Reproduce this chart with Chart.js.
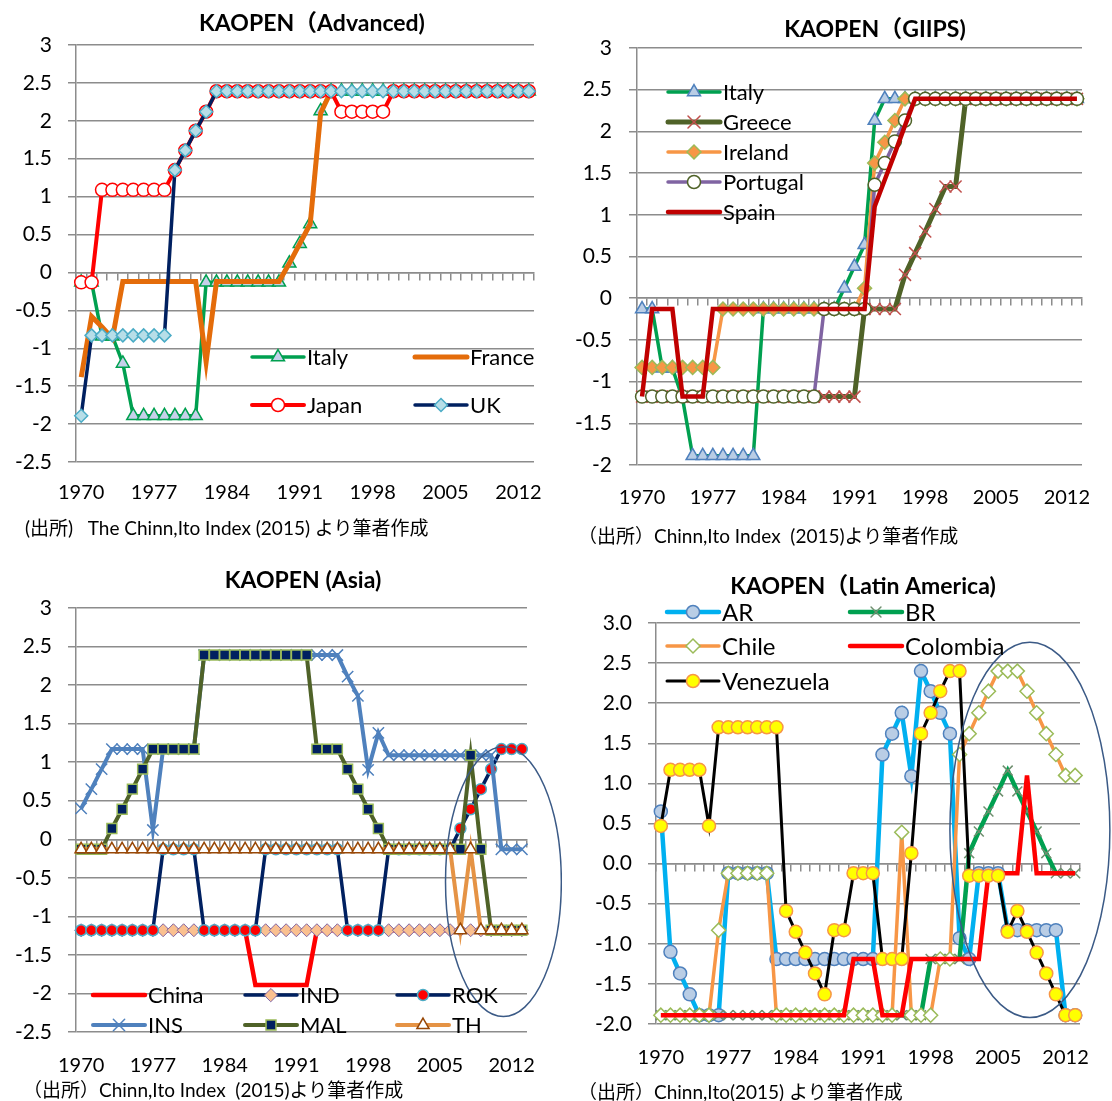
<!DOCTYPE html>
<html>
<head>
<meta charset="utf-8">
<script src="https://cdn.jsdelivr.net/npm/chart.js@4.4.1/dist/chart.umd.min.js"></script>
<style>
html, body { margin: 0; padding: 0; background: #fff; }
#page { position: relative; width: 1112px; height: 1101px; overflow: hidden; font-family: Lato, "Noto Sans CJK JP", sans-serif; }
.panel { position: absolute; }
.note { position: absolute; font-size: 19px; line-height: 22px; white-space: pre; color: #000; }
</style>
</head>
<body>
<div id="page">
  <div class="panel" style="left:0;top:0;width:562px;height:550px"><canvas id="cAdv"></canvas></div>
  <div class="panel" style="left:556px;top:0;width:556px;height:550px"><canvas id="cGiips"></canvas></div>
  <div class="panel" style="left:0;top:550px;width:562px;height:551px"><canvas id="cAsia"></canvas></div>
  <div class="panel" style="left:556px;top:550px;width:556px;height:551px"><canvas id="cLatam"></canvas></div>
  <div class="note" style="left:25px;top:517px">(出所)   The Chinn,Ito Index (2015) より筆者作成</div>
  <div class="note" style="left:578px;top:525px">（出所）Chinn,Ito Index  (2015)より筆者作成</div>
  <div class="note" style="left:23px;top:1079px">（出所）Chinn,Ito Index  (2015)より筆者作成</div>
  <div class="note" style="left:578px;top:1081px">（出所）Chinn,Ito(2015) より筆者作成</div>
</div>
<script>
const years = [1970, 1971, 1972, 1973, 1974, 1975, 1976, 1977, 1978, 1979,
               1980, 1981, 1982, 1983, 1984, 1985, 1986, 1987, 1988, 1989,
               1990, 1991, 1992, 1993, 1994, 1995, 1996, 1997, 1998, 1999,
               2000, 2001, 2002, 2003, 2004, 2005, 2006, 2007, 2008, 2009,
               2010, 2011, 2012, 2013];
const tickYears = [1970, 1977, 1984, 1991, 1998, 2005, 2012];

// Advanced
const italy = [-0.13, -0.13, -0.84, -0.84, -1.2, -1.89, -1.89, -1.89, -1.89, -1.89,
               -1.89, -1.89, -0.13, -0.13, -0.13, -0.13, -0.13, -0.13, -0.13, -0.13,
               0.12, 0.38, 0.64, 2.13, 2.39, 2.39, 2.39, 2.39, 2.39, 2.39,
               2.39, 2.39, 2.39, 2.39, 2.39, 2.39, 2.39, 2.39, 2.39, 2.39,
               2.39, 2.39, 2.39, 2.39];
const france = [-1.38, -0.58, -0.72, -0.87, -0.12, -0.12, -0.12, -0.12, -0.12, -0.12,
                -0.12, -0.12, -1.18, -0.12, -0.12, -0.12, -0.12, -0.12, -0.12, -0.12,
                0.12, 0.38, 0.64, 2.1, 2.39, 2.39, 2.39, 2.39, 2.39, 2.39,
                2.39, 2.39, 2.39, 2.39, 2.39, 2.39, 2.39, 2.39, 2.39, 2.39,
                2.39, 2.39, 2.39, 2.39];
const japan = [-0.13, -0.13, 1.09, 1.09, 1.09, 1.09, 1.09, 1.09, 1.09, 1.35,
               1.61, 1.87, 2.12, 2.39, 2.39, 2.39, 2.39, 2.39, 2.39, 2.39,
               2.39, 2.39, 2.39, 2.39, 2.39, 2.12, 2.12, 2.12, 2.12, 2.12,
               2.39, 2.39, 2.39, 2.39, 2.39, 2.39, 2.39, 2.39, 2.39, 2.39,
               2.39, 2.39, 2.39, 2.39];
const uk = [-1.89, -0.83, -0.83, -0.83, -0.83, -0.83, -0.83, -0.83, -0.83, 1.35,
            1.61, 1.87, 2.12, 2.39, 2.39, 2.39, 2.39, 2.39, 2.39, 2.39,
            2.39, 2.39, 2.39, 2.39, 2.39, 2.39, 2.39, 2.39, 2.39, 2.39,
            2.39, 2.39, 2.39, 2.39, 2.39, 2.39, 2.39, 2.39, 2.39, 2.39,
            2.39, 2.39, 2.39, 2.39];

// GIIPS
const greece = [-1.18, -1.18, -1.18, -1.18, -1.18, -1.18, -1.18, -1.18, -1.18, -1.18,
                -1.18, -1.18, -1.18, -1.18, -1.18, -1.18, -1.18, -1.18, -1.18, -1.18,
                -1.18, -1.18, -0.13, -0.13, -0.13, -0.13, 0.28, 0.54, 0.8, 1.07,
                1.34, 1.34, 2.39, 2.39, 2.39, 2.39, 2.39, 2.39, 2.39, 2.39,
                2.39, 2.39, 2.39, 2.39];
const ireland = [-0.83, -0.83, -0.83, -0.83, -0.83, -0.83, -0.83, -0.83, -0.13, -0.13,
                 -0.13, -0.13, -0.13, -0.13, -0.13, -0.13, -0.13, -0.13, -0.13, -0.13,
                 -0.13, -0.13, 0.12, 1.62, 1.87, 2.13, 2.39, 2.39, 2.39, 2.39,
                 2.39, 2.39, 2.39, 2.39, 2.39, 2.39, 2.39, 2.39, 2.39, 2.39,
                 2.39, 2.39, 2.39, 2.39];
const portugal = [-1.18, -1.18, -1.18, -1.18, -1.18, -1.18, -1.18, -1.18, -1.18, -1.18,
                  -1.18, -1.18, -1.18, -1.18, -1.18, -1.18, -1.18, -1.18, -0.13, -0.13,
                  -0.13, -0.13, -0.13, 1.36, 1.62, 1.88, 2.13, 2.39, 2.39, 2.39,
                  2.39, 2.39, 2.39, 2.39, 2.39, 2.39, 2.39, 2.39, 2.39, 2.39,
                  2.39, 2.39, 2.39, 2.39];
const spain = [-1.18, -0.13, -0.13, -0.13, -1.18, -1.18, -1.18, -0.13, -0.13, -0.13,
               -0.13, -0.13, -0.13, -0.13, -0.13, -0.13, -0.13, -0.13, -0.13, -0.13,
               -0.13, -0.13, -0.13, 1.1, 1.42, 1.74, 2.07, 2.39, 2.39, 2.39,
               2.39, 2.39, 2.39, 2.39, 2.39, 2.39, 2.39, 2.39, 2.39, 2.39,
               2.39, 2.39, 2.39, 2.39];

// Asia
const china = [-1.18, -1.18, -1.18, -1.18, -1.18, -1.18, -1.18, -1.18, -1.18, -1.18,
               -1.18, -1.18, -1.18, -1.18, -1.18, -1.18, -1.18, -1.89, -1.89, -1.89,
               -1.89, -1.89, -1.89, -1.18, -1.18, -1.18, -1.18, -1.18, -1.18, -1.18,
               -1.18, -1.18, -1.18, -1.18, -1.18, -1.18, -1.18, -1.18, -1.18, -1.18,
               -1.18, -1.18, -1.18, -1.18];
const ind = [-1.18, -1.18, -1.18, -1.18, -1.18, -1.18, -1.18, -1.18, -1.18, -1.18,
             -1.18, -1.18, -1.18, -1.18, -1.18, -1.18, -1.18, -1.18, -1.18, -1.18,
             -1.18, -1.18, -1.18, -1.18, -1.18, -1.18, -1.18, -1.18, -1.18, -1.18,
             -1.18, -1.18, -1.18, -1.18, -1.18, -1.18, -1.18, -1.18, -1.18, -1.18,
             -1.18, -1.18, -1.18, -1.18];
const rok = [-1.18, -1.18, -1.18, -1.18, -1.18, -1.18, -1.18, -1.18, -0.13, -0.13,
             -0.13, -0.13, -1.18, -1.18, -1.18, -1.18, -1.18, -1.18, -0.13, -0.13,
             -0.13, -0.13, -0.13, -0.13, -0.13, -0.13, -1.18, -1.18, -1.18, -1.18,
             -0.13, -0.13, -0.13, -0.13, -0.13, -0.13, -0.13, 0.14, 0.39, 0.65,
             0.91, 1.17, 1.17, 1.17];
const ins = [0.40, 0.65, 0.91, 1.17, 1.17, 1.17, 1.17, 0.12, 1.17, 1.17,
             1.17, 1.17, 2.39, 2.39, 2.39, 2.39, 2.39, 2.39, 2.39, 2.39,
             2.39, 2.39, 2.39, 2.39, 2.39, 2.39, 2.11, 1.86, 0.90, 1.38,
             1.09, 1.09, 1.09, 1.09, 1.09, 1.09, 1.09, 1.09, 1.09, 1.09,
             1.09, -0.13, -0.13, -0.13];
const mal = [-0.13, -0.13, -0.13, 0.14, 0.39, 0.65, 0.91, 1.17, 1.17, 1.17,
             1.17, 1.17, 2.39, 2.39, 2.39, 2.39, 2.39, 2.39, 2.39, 2.39,
             2.39, 2.39, 2.39, 1.17, 1.17, 1.17, 0.91, 0.65, 0.39, 0.14,
             -0.13, -0.13, -0.13, -0.13, -0.13, -0.13, -0.13, -0.13, 1.09, -0.13,
             -1.18, -1.18, -1.18, -1.18];
const th = [-0.13, -0.13, -0.13, -0.13, -0.13, -0.13, -0.13, -0.13, -0.13, -0.13,
            -0.13, -0.13, -0.13, -0.13, -0.13, -0.13, -0.13, -0.13, -0.13, -0.13,
            -0.13, -0.13, -0.13, -0.13, -0.13, -0.13, -0.13, -0.13, -0.13, -0.13,
            -0.13, -0.13, -0.13, -0.13, -0.13, -0.13, -0.13, -1.18, -0.13, -1.18,
            -1.18, -1.18, -1.18, -1.18];

// Latin America
const ar = [0.65, -1.10, -1.37, -1.63, -1.89, -1.89, -1.89, -0.12, -0.12, -0.12,
            -0.12, -0.12, -1.19, -1.19, -1.19, -1.19, -1.19, -1.19, -1.19, -1.19,
            -1.19, -1.19, -1.19, 1.36, 1.62, 1.88, 1.09, 2.40, 2.15, 1.88,
            1.62, -0.93, -1.19, -0.12, -0.12, -0.12, -0.83, -0.83, -0.83, -0.83,
            -0.83, -0.83, -1.89, -1.89];
const br = [-1.89, -1.89, -1.89, -1.89, -1.89, -1.89, -1.89, -1.89, -1.89, -1.89,
            -1.89, -1.89, -1.89, -1.89, -1.89, -1.89, -1.89, -1.89, -1.89, -1.89,
            -1.89, -1.89, -1.89, -1.89, -1.89, -1.89, -1.89, -1.89, -1.19, -1.19,
            -1.19, -1.19, 0.13, 0.40, 0.65, 0.90, 1.16, 0.90, 0.65, 0.40,
            0.13, -0.12, -0.12, -0.12];
const chile = [-1.89, -1.89, -1.89, -1.89, -1.89, -1.89, -0.83, -0.12, -0.12, -0.12,
               -0.12, -0.12, -1.89, -1.89, -1.89, -1.89, -1.89, -1.89, -1.89, -1.89,
               -1.89, -1.89, -1.89, -1.89, -1.89, 0.39, -1.89, -1.89, -1.89, -1.19,
               -1.19, 1.36, 1.62, 1.88, 2.15, 2.40, 2.40, 2.40, 2.15, 1.88,
               1.62, 1.36, 1.10, 1.10];
const colombia = [-1.89, -1.89, -1.89, -1.89, -1.89, -1.89, -1.89, -1.89, -1.89, -1.89,
                  -1.89, -1.89, -1.89, -1.89, -1.89, -1.89, -1.89, -1.89, -1.89, -1.89,
                  -1.19, -1.19, -1.19, -1.89, -1.89, -1.89, -1.19, -1.19, -1.19, -1.19,
                  -1.19, -1.19, -1.19, -1.19, -0.12, -0.12, -0.12, -0.12, 1.10, -0.12,
                  -0.12, -0.12, -0.12, -0.12];
const venezuela = [0.47, 1.17, 1.17, 1.17, 1.17, 0.47, 1.70, 1.70, 1.70, 1.70,
                   1.70, 1.70, 1.70, -0.59, -0.85, -1.11, -1.37, -1.63, -0.83, -0.83,
                   -0.12, -0.12, -0.12, -1.19, -1.19, -1.19, 0.13, 1.62, 1.88, 2.15,
                   2.40, 2.40, -0.15, -0.15, -0.15, -0.15, -0.85, -0.59, -0.85, -1.11,
                   -1.37, -1.63, -1.89, -1.89];

const GRID = '#8c8c8c';
const FONT = 'Lato, "Noto Sans CJK JP", sans-serif';

function series(label, data, color, width, marker) {
    const ds = {
        label: label, data: data, borderColor: color, backgroundColor: color,
        borderWidth: width, tension: 0, fill: false, pointRadius: 0, pointHoverRadius: 0
    };
    if (marker) {
        ds.pointStyle = marker.style;
        ds.pointRadius = marker.r;
        ds.pointHoverRadius = marker.r;
        ds.pointBackgroundColor = marker.fill;
        ds.pointBorderColor = marker.edge;
        ds.pointBorderWidth = marker.w || 1.5;
    }
    return ds;
}

// titles, legends and the ellipses
const decor = {
    id: 'decor',
    afterDatasetsDraw(chart, args, o) {
        const ctx = chart.ctx;
        const xs = chart.scales.x, ys = chart.scales.y;
        ctx.save();
        if (o.ellipse) {
            const e = o.ellipse;
            const step = xs.getPixelForValue(1) - xs.getPixelForValue(0);
            const cx = xs.getPixelForValue(0) + e.cx * step;
            const cy = ys.getPixelForValue(e.cy);
            const ry = Math.abs(ys.getPixelForValue(0) - ys.getPixelForValue(e.ry));
            ctx.beginPath();
            ctx.ellipse(cx, cy, e.rx * step, ry, 0, 0, Math.PI * 2);
            ctx.strokeStyle = '#3b5a86';
            ctx.lineWidth = 1.5;
            ctx.stroke();
        }
        (o.spots || []).forEach((p, i) => {
            const ds = chart.data.datasets[i];
            const len = 52;
            ctx.beginPath();
            ctx.moveTo(p[0], p[1]);
            ctx.lineTo(p[0] + len, p[1]);
            ctx.strokeStyle = ds.borderColor;
            ctx.lineWidth = ds.borderWidth;
            ctx.lineCap = 'round';
            ctx.stroke();
            if (ds.pointRadius > 0 && Chart.helpers && Chart.helpers.drawPoint) {
                ctx.fillStyle = ds.pointBackgroundColor || '#fff';
                ctx.strokeStyle = ds.pointBorderColor;
                ctx.lineWidth = ds.pointBorderWidth;
                Chart.helpers.drawPoint(ctx, {
                    pointStyle: ds.pointStyle, radius: ds.pointRadius,
                    rotation: 0, borderWidth: ds.pointBorderWidth
                }, p[0] + len / 2, p[1]);
            }
            ctx.fillStyle = '#000';
            ctx.font = o.legendSize + 'px ' + FONT;
            ctx.textAlign = 'left';
            ctx.textBaseline = 'middle';
            ctx.fillText(ds.label, p[0] + len + 3, p[1] + 1);
        });
        ctx.fillStyle = '#000';
        ctx.font = 'bold 23px ' + FONT;
        ctx.textAlign = 'center';
        ctx.textBaseline = 'middle';
        ctx.fillText(o.title, o.titleAt[0], o.titleAt[1]);
        ctx.restore();
    }
};

function panel(id, p) {
    const datasets = p.datasets.map((d, i, a) => Object.assign(d, { order: a.length - i }));
    return new Chart(document.getElementById(id), {
        type: 'line',
        data: { labels: years, datasets: datasets },
        options: {
            responsive: true,
            maintainAspectRatio: false,
            animation: false,
            layout: { padding: { left: 0, top: p.area.top, right: p.w - p.area.right, bottom: 0 } },
            plugins: {
                legend: { display: false },
                tooltip: { enabled: false },
                title: { display: false },
                decor: { title: p.title, titleAt: p.titleAt, spots: p.spots, ellipse: p.ellipse, legendSize: p.legendSize }
            },
            scales: {
                x: {
                    type: 'category',
                    offset: true,
                    grid: { display: false, drawTicks: false },
                    border: { display: false },
                    ticks: {
                        autoSkip: false, maxRotation: 0, padding: p.xPad, color: '#000',
                        font: { family: FONT, size: 20 },
                        callback: (v, i) => tickYears.includes(years[i]) ? String(years[i]) : ''
                    },
                    afterFit: s => { s.height = p.h - p.area.bottom; }
                },
                x0: {
                    type: 'category',
                    axis: 'x',
                    position: { y: 0 },
                    offset: true,
                    grid: { offset: true, drawOnChartArea: false, drawTicks: true, tickLength: 7, color: GRID, lineWidth: 1.5 },
                    border: { display: true, color: GRID, width: 1.5 },
                    ticks: { display: false }
                },
                y: {
                    position: 'left',
                    min: p.yMin,
                    max: 3,
                    ticks: {
                        stepSize: 0.5, padding: p.yPad, color: '#000',
                        font: { family: FONT, size: 21 },
                        callback: p.yFmt
                    },
                    grid: { color: GRID, lineWidth: 1.5, tickLength: 8 },
                    border: { color: GRID, width: 1.5 },
                    afterFit: s => { s.width = p.area.left; }
                }
            }
        },
        plugins: [decor]
    });
}

const plainFmt = v => String(Math.round(v * 10) / 10);
const oneDecFmt = v => v.toFixed(1);

panel('cAdv', {
    w: 562, h: 550,
    area: { left: 76, right: 534, top: 45, bottom: 462 },
    title: 'KAOPEN（Advanced)', titleAt: [312, 24],
    yMin: -2.5, yFmt: plainFmt, yPad: 16, xPad: 19, legendSize: 22,
    datasets: [
        series('Italy', italy, '#00a050', 3.5, { style: 'triangle', r: 7.5, fill: '#c6d0ea', edge: '#00a050' }),
        series('France', france, '#e46c0a', 5),
        series('Japan', japan, '#ff0000', 4, { style: 'circle', r: 6.5, fill: '#ffffff', edge: '#ff0000' }),
        series('UK', uk, '#002060', 3.5, { style: 'rectRot', r: 6.5, fill: '#b7dee8', edge: '#4bacc6' })
    ],
    spots: [[252, 357], [415, 357], [252, 405], [415, 405]]
});

panel('cGiips', {
    w: 556, h: 550,
    area: { left: 81, right: 526, top: 48, bottom: 465 },
    title: 'KAOPEN（GIIPS)', titleAt: [319, 30],
    yMin: -2, yFmt: plainFmt, yPad: 17, xPad: 21, legendSize: 22,
    datasets: [
        series('Italy', italy, '#00a050', 3.5, { style: 'triangle', r: 7.5, fill: '#b9cde5', edge: '#4f81bd' }),
        series('Greece', greece, '#4f6228', 5, { style: 'crossRot', r: 8.5, fill: '#c0504d', edge: '#c0504d' }),
        series('Ireland', ireland, '#f79646', 3.5, { style: 'rectRot', r: 7, fill: '#f79646', edge: '#9bbb59' }),
        series('Portugal', portugal, '#8064a2', 3.5, { style: 'circle', r: 6.5, fill: '#ffffff', edge: '#4f6228' }),
        series('Spain', spain, '#c00000', 4.5)
    ],
    spots: [[112, 92], [112, 122], [112, 152], [112, 182], [112, 212]]
});

panel('cAsia', {
    w: 562, h: 551,
    area: { left: 76, right: 527, top: 58, bottom: 482 },
    title: 'KAOPEN (Asia)', titleAt: [303, 31],
    yMin: -2.5, yFmt: plainFmt, yPad: 16, xPad: 22, legendSize: 22,
    datasets: [
        series('China', china, '#ff0000', 4.5),
        series('IND', ind, '#002060', 3.5, { style: 'rectRot', r: 6.5, fill: '#fac090', edge: '#8064a2', w: 1 }),
        series('ROK', rok, '#002060', 3.5, { style: 'circle', r: 5.5, fill: '#ff0000', edge: '#4bacc6' }),
        series('INS', ins, '#4f81bd', 4, { style: 'crossRot', r: 8, fill: '#4f81bd', edge: '#4f81bd' }),
        series('MAL', mal, '#4f6228', 4, { style: 'rect', r: 7, fill: '#002060', edge: '#9bbb59' }),
        series('TH', th, '#e59345', 4, { style: 'triangle', r: 7, fill: '#ffffff', edge: '#984807' })
    ],
    spots: [[93, 445], [245, 445], [397, 445], [93, 475], [245, 475], [397, 475]],
    ellipse: { cx: 41.2, cy: -0.55, rx: 5.65, ry: 1.75 }
});

panel('cLatam', {
    w: 556, h: 551,
    area: { left: 100, right: 524, top: 73, bottom: 474 },
    title: 'KAOPEN（Latin America)', titleAt: [307, 37],
    yMin: -2, yFmt: oneDecFmt, yPad: 16, xPad: 22, legendSize: 24,
    datasets: [
        series('AR', ar, '#00b0f0', 4.5, { style: 'circle', r: 6.5, fill: '#b9cde5', edge: '#4f81bd' }),
        series('BR', br, '#00a050', 4.5, { style: 'crossRot', r: 7, fill: '#6f8f6f', edge: '#6f8f6f' }),
        series('Chile', chile, '#f79646', 3.5, { style: 'rectRot', r: 7, fill: '#ffffff', edge: '#9bbb59' }),
        series('Colombia', colombia, '#ff0000', 4.5),
        series('Venezuela', venezuela, '#000000', 3, { style: 'circle', r: 6.5, fill: '#ffff00', edge: '#f79646' })
    ],
    spots: [[111, 62], [294, 62], [111, 96], [294, 96], [111, 131]],
    ellipse: { cx: 38.3, cy: 0.42, rx: 8.3, ry: 2.34 }
});
</script>
</body>
</html>
